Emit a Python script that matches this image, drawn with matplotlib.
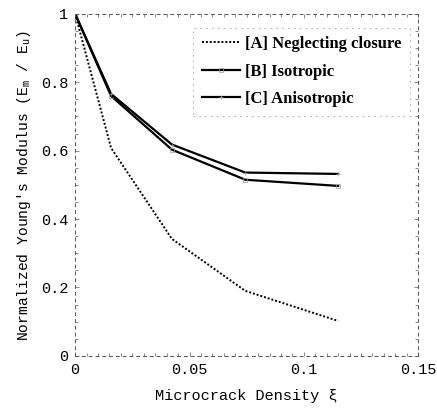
import numpy as np
import matplotlib
matplotlib.use("Agg")
import matplotlib.pyplot as plt
from matplotlib.ticker import MultipleLocator

# datos
xi = [0.0, 0.0157, 0.0423, 0.0744, 0.115]
neglecting = [1.0, 0.608, 0.342, 0.190, 0.102]
isotropic = [1.0, 0.760, 0.603, 0.515, 0.497]
anisotropic = [1.0, 0.766, 0.618, 0.536, 0.532]
labels = ["[A] Neglecting closure", "[B] Isotropic", "[C] Anisotropic"]
xticks = [0, 0.05, 0.1, 0.15]
xticklabels = ["0", "0.05", "0.1", "0.15"]
yticks = [0, 0.2, 0.4, 0.6, 0.8, 1.0]
yticklabels = ["0", "0.2", "0.4", "0.6", "0.8", "1"]

mono = ["Liberation Mono", "DejaVu Sans Mono"]

fig = plt.figure(figsize=(4.37, 4.09), dpi=100)
ax = fig.add_axes([0.172, 0.13, 0.785, 0.836])

ax.plot(xi, neglecting, color="black", linestyle=(0, (1, 1)), linewidth=1.4,
        label=labels[0])
ax.plot(xi, isotropic, color="black", linewidth=1.6, marker="s", markersize=3,
        mfc="none", mec="#999999", mew=0.5, label=labels[1])
ax.plot(xi, anisotropic, color="black", linewidth=1.6, marker="+", markersize=3,
        mec="#999999", mew=0.5, label=labels[2])

ax.set_xlim(0, 0.15)
ax.set_ylim(0, 1)
ax.set_xticks(xticks)
ax.set_xticklabels(xticklabels, family=mono)
ax.set_yticks(yticks)
ax.set_yticklabels(yticklabels, family=mono)
ax.xaxis.set_minor_locator(MultipleLocator(0.005))
ax.yaxis.set_minor_locator(MultipleLocator(0.05))
ax.tick_params(which="both", direction="in", top=True, right=True,
               color="#777777", width=0.6)
ax.tick_params(which="major", length=3, labelsize=11, pad=5)
ax.tick_params(which="minor", length=2)
for sp in ax.spines.values():
    sp.set_linestyle((0, (3, 4)))
    sp.set_linewidth(0.7)
    sp.set_color("#555555")

ax.set_xlabel("Microcrack Density ξ", family=mono, fontsize=11, labelpad=9)
ax.set_ylabel(r"Normalized Young's Modulus ($\mathregular{E_m}$ / $\mathregular{E_u}$)",
              family=mono, fontsize=10.5, labelpad=6)

leg = ax.legend(loc="upper right", bbox_to_anchor=(0.975, 0.96),
                prop={"family": "Liberation Serif", "weight": "bold", "size": 12},
                handlelength=2.3, handletextpad=0.3, labelspacing=0.7,
                fancybox=False, borderpad=0.5, borderaxespad=0.0)
leg.get_frame().set_edgecolor("#888888")
leg.get_frame().set_linestyle((0, (2, 5)))
leg.get_frame().set_linewidth(0.6)

fig.savefig("out.png", dpi=100)
